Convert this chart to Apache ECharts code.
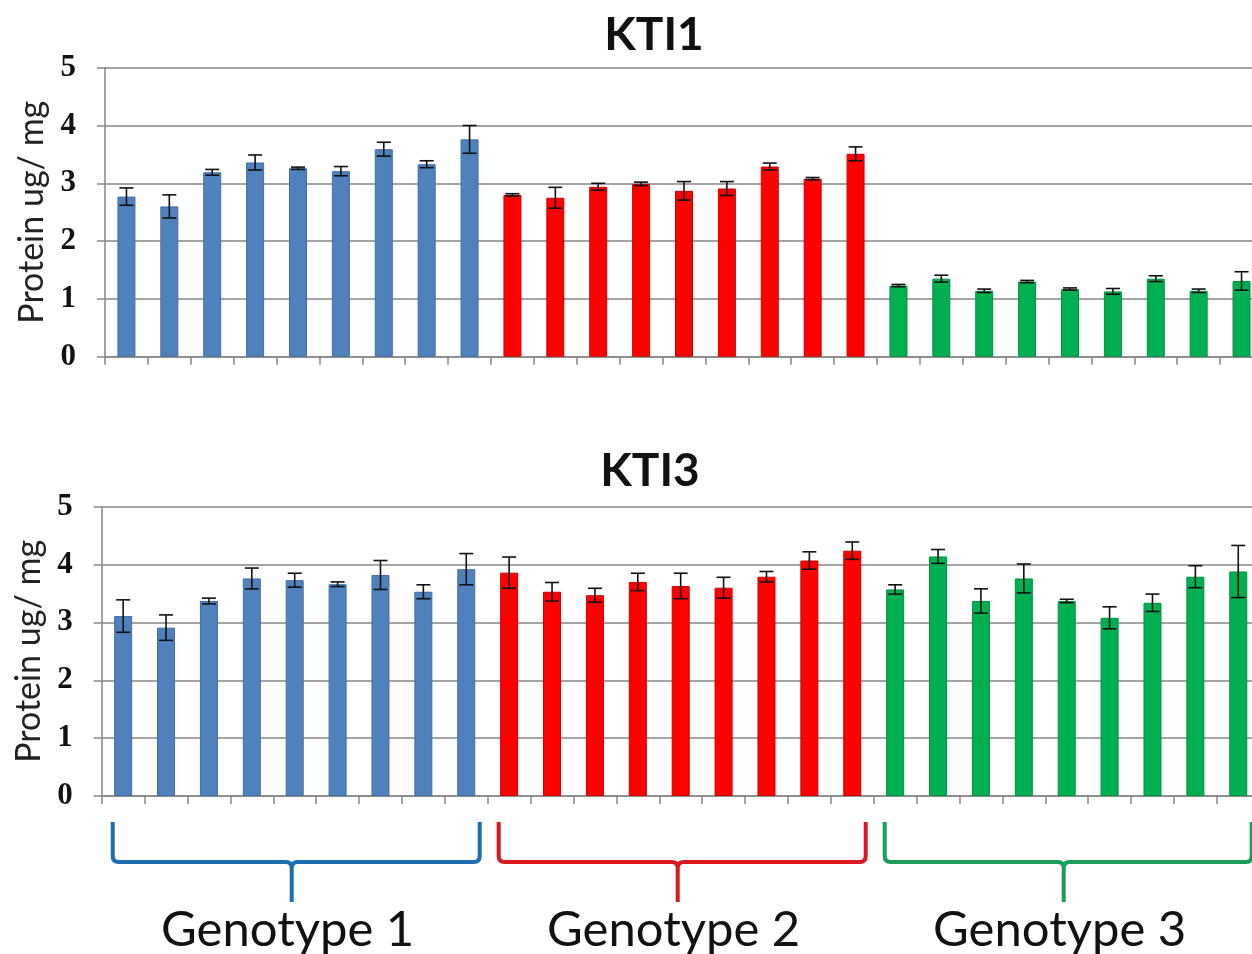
<!DOCTYPE html>
<html>
<head>
<meta charset="utf-8">
<script src="https://cdn.jsdelivr.net/npm/echarts@6/dist/echarts.min.js"></script>
<style>html,body{margin:0;padding:0;background:#fff;}#chart{width:1252px;height:954px;}</style>
</head>
<body>
<div id="chart"></div>
<script>
// ---- data ----
var categories = ['1-1','1-2','1-3','1-4','1-5','1-6','1-7','1-8','1-9',
                  '2-1','2-2','2-3','2-4','2-5','2-6','2-7','2-8','2-9',
                  '3-1','3-2','3-3','3-4','3-5','3-6','3-7','3-8','3-9'];
var groupOfCategory = [0,0,0,0,0,0,0,0,0, 1,1,1,1,1,1,1,1,1, 2,2,2,2,2,2,2,2,2];
var groupNames = ['Genotype 1', 'Genotype 2', 'Genotype 3'];
var groupFirst = [0, 9, 18];
var groupLast = [8, 17, 26];
var chartTitles = ['KTI1', 'KTI3'];
var yTicks = [0, 1, 2, 3, 4, 5];
var yAxisName = 'Protein ug/ mg';

var kti1Values = [2.77, 2.60, 3.19, 3.36, 3.26, 3.21, 3.59, 3.33, 3.76,
                  2.80, 2.75, 2.94, 2.99, 2.87, 2.91, 3.29, 3.08, 3.51,
                  1.23, 1.35, 1.14, 1.30, 1.17, 1.13, 1.35, 1.14, 1.31];
var kti1Errors = [0.15, 0.20, 0.05, 0.13, 0.02, 0.08, 0.12, 0.06, 0.24,
                  0.02, 0.18, 0.06, 0.03, 0.16, 0.12, 0.06, 0.02, 0.12,
                  0.02, 0.06, 0.03, 0.02, 0.02, 0.05, 0.05, 0.03, 0.16];
var kti3Values = [3.11, 2.91, 3.37, 3.76, 3.73, 3.66, 3.82, 3.53, 3.92,
                  3.86, 3.53, 3.47, 3.70, 3.63, 3.60, 3.79, 4.07, 4.24,
                  3.57, 4.14, 3.37, 3.76, 3.37, 3.08, 3.34, 3.79, 3.88];
var kti3Errors = [0.28, 0.22, 0.05, 0.18, 0.12, 0.04, 0.25, 0.12, 0.27,
                  0.27, 0.16, 0.12, 0.15, 0.22, 0.18, 0.09, 0.15, 0.15,
                  0.08, 0.12, 0.21, 0.25, 0.03, 0.19, 0.15, 0.19, 0.45];

// ---- styles ----
var barColors = ['#4F81BD', '#FF0000', '#00B050'];
var barBorders = ['#3F6EA6', '#D00000', '#009040'];
var braceColors = ['#1F6DB0', '#D9181F', '#1C9C5A'];
var axisGrey = '#868686';
var sansFont = 'Lato, "Open Sans", sans-serif';
var serifFont = '"Liberation Serif", "DejaVu Serif", serif';

var chart = echarts.init(document.getElementById('chart'), null, {renderer: 'canvas'});

function barData(values) {
  return values.map(function (v, i) {
    var g = groupOfCategory[i];
    return {value: v, itemStyle: {color: barColors[g], borderColor: barBorders[g], borderWidth: 1}};
  });
}
function errData(values, errs) {
  return values.map(function (v, i) { return [i, v, errs[i]]; });
}
function renderErr(params, api) {
  var idx = api.value(0), v = api.value(1), e = api.value(2);
  var top = api.coord([idx, v + e]);
  var bot = api.coord([idx, v - e]);
  var half = 7;
  var st = {stroke: '#111', lineWidth: 1.6};
  return {
    type: 'group',
    children: [
      {type: 'line', shape: {x1: top[0], y1: top[1], x2: bot[0], y2: bot[1]}, style: st},
      {type: 'line', shape: {x1: top[0] - half, y1: top[1], x2: top[0] + half, y2: top[1]}, style: st},
      {type: 'line', shape: {x1: bot[0] - half, y1: bot[1], x2: bot[0] + half, y2: bot[1]}, style: st}
    ]
  };
}
function renderBrace(params, api) {
  var g = api.value(0);
  var first = groupFirst[g], last = groupLast[g];
  var bw = api.size([1, 0])[0];
  var p0 = api.coord([first, 100]);
  var p1 = api.coord([last, 100]);
  var xL = p0[0] - bw / 2 + 11;
  var xR = p1[0] + bw / 2 - 8;
  var yTop = api.coord([first, 100])[1];
  var yMid = api.coord([first, 50])[1];
  var yTip = api.coord([first, 0])[1];
  var xC = (p0[0] - bw / 2 + p1[0] + bw / 2) / 2 - 3;
  var r = 6;
  var path = 'M' + xL + ' ' + yTop +
    ' L' + xL + ' ' + (yMid - r) +
    ' Q' + xL + ' ' + yMid + ' ' + (xL + r) + ' ' + yMid +
    ' L' + (xC - r) + ' ' + yMid +
    ' Q' + xC + ' ' + yMid + ' ' + xC + ' ' + (yMid + r) +
    ' L' + xC + ' ' + yTip +
    ' M' + xC + ' ' + (yMid + r) +
    ' Q' + xC + ' ' + yMid + ' ' + (xC + r) + ' ' + yMid +
    ' L' + (xR - r) + ' ' + yMid +
    ' Q' + xR + ' ' + yMid + ' ' + xR + ' ' + (yMid - r) +
    ' L' + xR + ' ' + yTop;
  return {
    type: 'group',
    children: [
      {type: 'path', shape: {pathData: path}, style: {fill: null, stroke: braceColors[g], lineWidth: 4, lineJoin: 'round', lineCap: 'butt'}},
      {type: 'text', x: xC - 4, y: yTip + 28, style: {text: groupNames[g], fill: '#111', font: '49px ' + sansFont, align: 'center', verticalAlign: 'middle'}}
    ]
  };
}

function valueAxis(gridIndex) {
  return {
    type: 'value', gridIndex: gridIndex, min: 0, max: 5, interval: 1,
    name: yAxisName, nameLocation: 'middle', nameGap: 56, nameRotate: 90,
    nameTextStyle: {fontFamily: sansFont, fontSize: 34, color: '#222'},
    axisLine: {show: true, lineStyle: {color: axisGrey, width: 1.5}},
    axisTick: {show: true, length: 8, lineStyle: {color: axisGrey, width: 1.5}},
    axisLabel: {margin: 29, fontFamily: serifFont, fontWeight: 'bold', fontSize: 31, color: '#111',
                formatter: function (v) { return yTicks.indexOf(v) >= 0 ? String(v) : ''; }},
    splitLine: {show: true, lineStyle: {color: axisGrey, width: 1.5}}
  };
}
function catAxis(gridIndex, show) {
  return {
    type: 'category', gridIndex: gridIndex, data: categories, boundaryGap: true,
    show: show,
    axisLine: {show: true, lineStyle: {color: axisGrey, width: 1.5}},
    axisTick: {show: true, interval: 0, length: 8, alignWithLabel: false, lineStyle: {color: axisGrey, width: 1.5}},
    axisLabel: {show: false},
    splitLine: {show: false}
  };
}

var option = {
  backgroundColor: '#ffffff',
  animation: false,
  title: [
    {text: chartTitles[0], left: 649, top: 7, textAlign: 'center',
     textStyle: {fontFamily: sansFont, fontWeight: 'bold', fontSize: 46, color: '#111'}},
    {text: chartTitles[1], left: 645, top: 443, textAlign: 'center',
     textStyle: {fontFamily: sansFont, fontWeight: 'bold', fontSize: 46, color: '#111'}}
  ],
  grid: [
    {left: 105, top: 67.7, width: 1158, height: 289, outerBoundsMode: 'none'},
    {left: 101.7, top: 506.7, width: 1158, height: 289.3, outerBoundsMode: 'none'},
    {left: 101.7, top: 822, width: 1158, height: 80, outerBoundsMode: 'none'}
  ],
  xAxis: [catAxis(0, true), catAxis(1, true), catAxis(2, false)],
  yAxis: [valueAxis(0), valueAxis(1),
          {type: 'value', gridIndex: 2, min: 0, max: 100, show: false, splitLine: {show: false}}],
  series: [
    {type: 'bar', xAxisIndex: 0, yAxisIndex: 0, barWidth: 18, data: barData(kti1Values), z: 2},
    {type: 'custom', xAxisIndex: 0, yAxisIndex: 0, renderItem: renderErr, data: errData(kti1Values, kti1Errors), z: 3},
    {type: 'bar', xAxisIndex: 1, yAxisIndex: 1, barWidth: 18, data: barData(kti3Values), z: 2},
    {type: 'custom', xAxisIndex: 1, yAxisIndex: 1, renderItem: renderErr, data: errData(kti3Values, kti3Errors), z: 3},
    {type: 'custom', xAxisIndex: 2, yAxisIndex: 2, renderItem: renderBrace, clip: false,
     data: groupNames.map(function (n, g) { return [g]; })}
  ]
};
chart.setOption(option);
</script>
</body>
</html>
